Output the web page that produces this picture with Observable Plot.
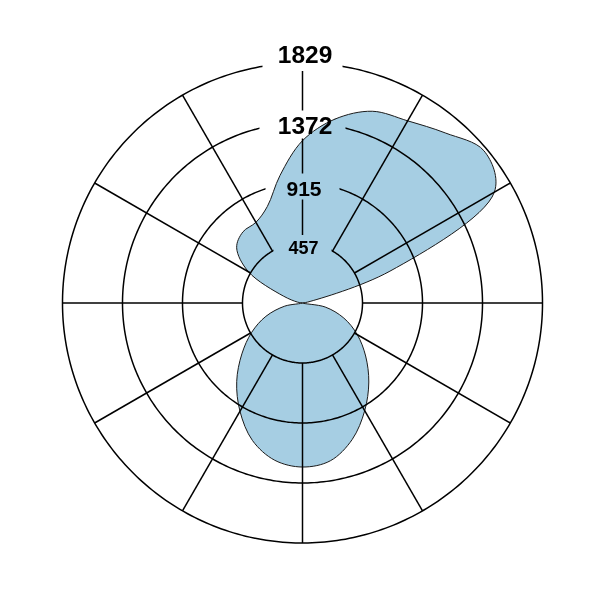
<!DOCTYPE html>
<html>
<head>
<meta charset="utf-8">
<script src="https://cdn.jsdelivr.net/npm/d3@7"></script>
<script src="https://cdn.jsdelivr.net/npm/@observablehq/plot@0.6"></script>
<style>
  html, body { margin: 0; padding: 0; background: #fff; }
  svg { display: block; }
</style>
</head>
<body>
<div id="chart"></div>
<script>
// Compass direction (degrees, clockwise from top) of each sample
const angles = [0, 10, 20, 30, 40, 50, 60, 70, 80, 90, 100, 110,
                120, 130, 140, 150, 160, 170, 180, 190, 200, 210, 220, 230,
                240, 250, 260, 270, 280, 290, 300, 310, 320, 330, 340, 350];
// Radial value at each direction (metres)
const values = [1237, 1423, 1555, 1603, 1692, 1805, 1688, 709, 40, 0, 175, 335,
                482, 628, 786, 948, 1107, 1221, 1250, 1217, 1115, 953, 780, 603,
                447, 297, 137, 0, 38, 156, 475, 655, 707, 710, 783, 987];
// Rings and their tick labels
const ringValues = [457.25, 914.5, 1371.75, 1829];
const ringLabels = ["457", "915", "1372", "1829"];
// Spoke directions
const spokeAngles = [0, 30, 60, 90, 120, 150, 180, 210, 240, 270, 300, 330];

const K = 100;                  // metres per degree of arc in the projection
const maxR = ringValues[ringValues.length - 1];
const lon = a => 180 - a;       // compass angle -> longitude (top = 0°, clockwise)
const lat = v => 90 - v / K;    // radial value -> latitude (centre = pole)

const points = angles.map((a, i) => ({angle: a, value: values[i]}));
const circle = r => d3.geoCircle().center([0, 90]).radius(r / K).precision(1)();

const box = (w, h) => ({draw(ctx) { ctx.rect(-w / 2, -h / 2, w, h); }});

function ringBox(i, w, h, dy) {
  return Plot.dot([ringValues[i]], {
    x: () => 180, y: v => lat(v), symbol: box(w, h),
    fill: "white", stroke: "none", dy
  });
}
function ringLabel(i, fontSize, dx, dy) {
  return Plot.text([ringValues[i]], {
    x: () => 180, y: v => lat(v), text: () => ringLabels[i],
    fontSize, fontWeight: "bold", fontFamily: "Liberation Sans, Arial, sans-serif",
    fill: "black", dx, dy
  });
}

const chart = Plot.plot({
  width: 601,
  height: 601,
  marginLeft: 62,
  marginRight: 59,
  marginTop: 62,
  marginBottom: 58,
  projection: {
    type: "azimuthal-equidistant",
    rotate: [0, -90],
    domain: circle(maxR)
  },
  marks: [
    Plot.geo(ringValues, {geometry: circle, fill: "none", stroke: "black", strokeWidth: 1.5}),
    Plot.link(spokeAngles, {
      x1: lon, y1: () => lat(ringValues[0]),
      x2: lon, y2: () => lat(maxR),
      stroke: "black", strokeWidth: 1.5
    }),
    ringBox(0, 58, 24, 4),
    ringBox(1, 74, 26, 3.5),
    ringBox(2, 86, 28, 1.5),
    ringBox(3, 80, 32, -8),
    Plot.line(points, {
      x: d => lon(d.angle),
      y: d => lat(d.value),
      curve: "catmull-rom-closed",
      fill: "#a6cee3",
      stroke: "#1a1a1a",
      strokeWidth: 1,
      mixBlendMode: "multiply"
    }),
    ringLabel(0, 18, 1, 5.6),
    ringLabel(1, 21, 1.5, 5.8),
    ringLabel(2, 24.5, 2.5, 3.5),
    ringLabel(3, 24.5, 2.5, -7.5)
  ]
});
document.getElementById("chart").appendChild(chart);
</script>
</body>
</html>
